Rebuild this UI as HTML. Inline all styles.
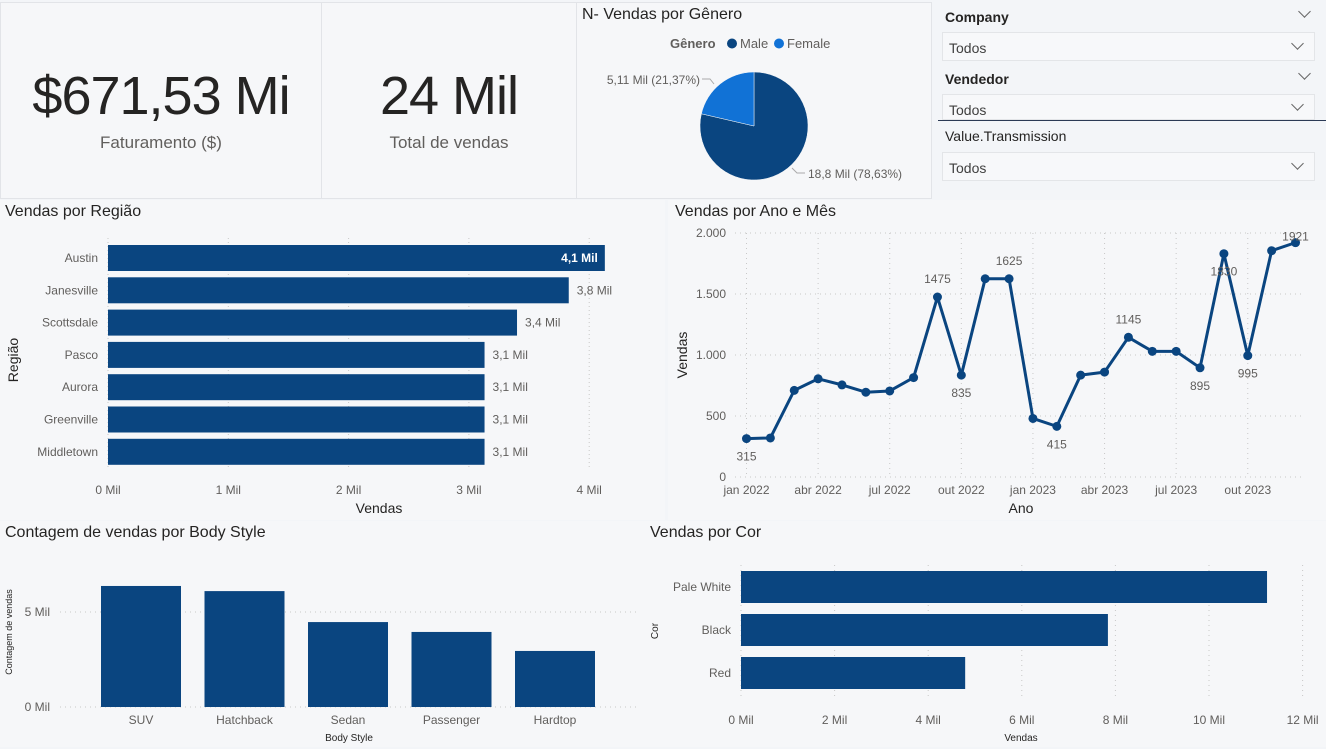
<!DOCTYPE html>
<html><head><meta charset="utf-8">
<style>
body{margin:0;width:1326px;height:749px;overflow:hidden;background:#f3f5f8;font-family:"Liberation Sans",sans-serif;position:relative}
.abs{position:absolute}
.card{position:absolute;background:#f6f7f9;border:1px solid #e2e4e8;box-sizing:border-box}
.kpi{font-size:54px;color:#252423;text-align:center;width:100%;letter-spacing:-1px}
.kcap{font-size:17px;color:#605e5c;text-align:center;width:100%}
.sl-t{font-size:14px;color:#252423;font-weight:bold}
.sl-b{position:absolute;background:#f7f8fa;border:1px solid #e3e5e8;font-size:14px;color:#404040;box-sizing:border-box;padding:7px 0 0 6px}
.chev{position:absolute;width:8px;height:8px;border-right:1.3px solid #666;border-bottom:1.3px solid #666;transform:rotate(45deg)}
svg text{font-family:"Liberation Sans",sans-serif}
</style></head><body>
<div class="card" style="left:0;top:2px;width:322px;height:197px">
 <div class="kpi abs" style="top:62px">$671,53 Mi</div>
 <div class="kcap abs" style="top:130px">Faturamento ($)</div>
</div>
<div class="card" style="left:321px;top:2px;width:256px;height:197px">
 <div class="kpi abs" style="top:62px">24 Mil</div>
 <div class="kcap abs" style="top:130px">Total de vendas</div>
</div>
<div class="card" style="left:576px;top:2px;width:356px;height:197px"></div>
<div class="abs" style="left:938px;top:0;width:388px;height:200px">
 <div class="sl-t abs" style="left:7px;top:9px">Company</div>
 <div class="chev" style="left:1361px"></div>
 <div class="chev" style="left:362px;top:7px"></div>
 <div class="sl-b" style="left:4px;top:32px;width:373px;height:29px">Todos<div class="chev" style="right:12px;top:6px"></div></div>
 <div class="sl-t abs" style="left:7px;top:71px">Vendedor</div>
 <div class="chev" style="left:362px;top:69px"></div>
 <div class="sl-b" style="left:4px;top:94px;width:373px;height:26px">Todos<div class="chev" style="right:12px;top:5px"></div></div>
 <div class="abs" style="left:0;top:120px;width:388px;height:1px;background:#2b3a55"></div>
 <div class="sl-t abs" style="left:7px;top:128px;font-weight:normal;color:#252423">Value.Transmission</div>
 <div class="sl-b" style="left:4px;top:152px;width:373px;height:29px">Todos<div class="chev" style="right:12px;top:6px"></div></div>
</div>
<svg id="s" class="abs" style="left:0;top:0" width="1326" height="749"></svg>
<script>
// Gender pie
const genders=["Male","Female"];
const genderVals=[18.8,5.11];
const genderLabels=["18,8 Mil (78,63%)","5,11 Mil (21,37%)"];
// Region
const regions=["Austin","Janesville","Scottsdale","Pasco","Aurora","Greenville","Middletown"];
const regionVals=[4.13,3.83,3.4,3.13,3.13,3.13,3.13];
const regionLabels=["4,1 Mil","3,8 Mil","3,4 Mil","3,1 Mil","3,1 Mil","3,1 Mil","3,1 Mil"];
const regionTicks=[0,1,2,3,4];
// Monthly
const months=["jan 2022","fev 2022","mar 2022","abr 2022","mai 2022","jun 2022","jul 2022","ago 2022","set 2022","out 2022","nov 2022","dez 2022","jan 2023","fev 2023","mar 2023","abr 2023","mai 2023","jun 2023","jul 2023","ago 2023","set 2023","out 2023","nov 2023","dez 2023"];
const monthVals=[315,320,710,805,755,695,705,815,1475,835,1625,1625,480,415,835,860,1145,1030,1030,895,1830,995,1855,1921];
const monthLabelIdx=[0,8,9,11,13,16,19,20,21,23];
const lineYTicks=[0,500,1000,1500,2000];
const lineXTickIdx=[0,3,6,9,12,15,18,21];
// Body style
const bodies=["SUV","Hatchback","Sedan","Passenger","Hardtop"];
const bodyVals=[6.37,6.1,4.47,3.95,2.95];
const bodyTicks=[0,5];
// Color
const colors=["Pale White","Black","Red"];
const colorVals=[11.24,7.84,4.79];
const colorTicks=[0,2,4,6,8,10,12];

const S=document.getElementById('s');const NS="http://www.w3.org/2000/svg";
function el(t,a,txt){const e=document.createElementNS(NS,t);for(const k in a)e.setAttribute(k,a[k]);if(txt!==undefined)e.textContent=txt;S.appendChild(e);return e;}
const DARK="#0a4580",GRID="#c8c8c8",TXT="#605e5c";
function fmt(n){return n.toLocaleString('pt-BR');}

// card backgrounds for lower area
let c;
c=el('rect',{x:0,y:200,width:665,height:320,fill:'#f6f7f9'});
c=el('rect',{x:668,y:200,width:658,height:320,fill:'#f6f7f9'});
c=el('rect',{x:0,y:521,width:645,height:226,fill:'#f6f7f9'});
c=el('rect',{x:645,y:521,width:681,height:226,fill:'#f6f7f9'});
S.insertBefore(S.lastChild,S.firstChild);S.insertBefore(S.lastChild,S.firstChild);S.insertBefore(S.lastChild,S.firstChild);S.insertBefore(S.lastChild,S.firstChild);

// ---- Pie
c=el('text',{x:582,y:19,'font-size':16,fill:'#252423'},'N- Vendas por Gênero');
c=el('text',{x:670,y:48,'font-size':13,'font-weight':'bold',fill:'#605e5c'},'Gênero');
const pieCols=[DARK,"#1172d6"];
[[732,"Male"],[779,"Female"]].forEach((p,i)=>{
 c=el('circle',{cx:p[0],cy:43.5,r:5,fill:pieCols[i]});
 c=el('text',{x:p[0]+8,y:48,'font-size':13,fill:'#605e5c'},genders[i]);
});
const pcx=754,pcy=126,pr=54;const tot=genderVals.reduce((a,b)=>a+b,0);
let ang=0;
genderVals.forEach((v,i)=>{
 const a0=ang,a1=ang+v/tot*2*Math.PI;ang=a1;
 const p0=[pcx+pr*Math.sin(a0),pcy-pr*Math.cos(a0)],p1=[pcx+pr*Math.sin(a1),pcy-pr*Math.cos(a1)];
 c=el('path',{d:`M${pcx},${pcy}L${p0[0]},${p0[1]}A${pr},${pr} 0 ${a1-a0>Math.PI?1:0} 1 ${p1[0]},${p1[1]}Z`,fill:pieCols[i],stroke:'#f6f7f9','stroke-width':0.5});
 
});
el('path',{d:'M792,168 L797,173 L805,173',stroke:'#aaa',fill:'none'});
c=el('text',{x:808,y:178,'font-size':12,fill:TXT},genderLabels[0]);
el('path',{d:'M702,79 L710,79 L714,84',stroke:'#aaa',fill:'none'});
c=el('text',{x:700,y:84,'font-size':12,fill:TXT,'text-anchor':'end'},genderLabels[1]);

// ---- Region bars
c=el('text',{x:5,y:216,'font-size':16,fill:'#252423'},'Vendas por Região');
const rx=v=>108+v*120.3;
regionTicks.forEach(t=>{el('line',{x1:rx(t),x2:rx(t),y1:238,y2:468,stroke:GRID,'stroke-dasharray':'1,3'});
 c=el('text',{x:rx(t),y:494,'font-size':12,fill:TXT,'text-anchor':'middle'},t+' Mil');});
regions.forEach((r,i)=>{const cy=258+i*32.3;
 c=el('rect',{x:108,y:cy-13,width:rx(regionVals[i])-108,height:26,fill:DARK});
 c=el('text',{x:98,y:cy+4,'font-size':12,fill:TXT,'text-anchor':'end'},r);
 const inside=i==0;
 c=el('text',{x:inside?rx(regionVals[i])-7:rx(regionVals[i])+8,y:cy+4,'font-size':12,fill:inside?'#fff':TXT,'text-anchor':inside?'end':'start','font-weight':inside?'bold':'normal'},regionLabels[i]);
});
c=el('text',{x:379,y:513,'font-size':14,fill:'#252423','text-anchor':'middle'},'Vendas');
c=el('text',{x:0,y:0,'font-size':14,fill:'#252423','text-anchor':'middle',transform:'translate(18,360) rotate(-90)'},'Região');

// ---- Line chart
c=el('text',{x:675,y:216,'font-size':16,fill:'#252423'},'Vendas por Ano e Mês');
const lx=i=>746.5+i*23.87, ly=v=>477-v/2000*244;
lineYTicks.forEach(t=>{el('line',{x1:735,x2:1302,y1:ly(t),y2:ly(t),stroke:GRID,'stroke-dasharray':'1,4'});
 c=el('text',{x:726,y:ly(t)+4,'font-size':12,fill:TXT,'text-anchor':'end'},fmt(t).replace(/\s/g,''));});
lineXTickIdx.forEach(i=>{el('line',{x1:lx(i),x2:lx(i),y1:233,y2:477,stroke:GRID,'stroke-dasharray':'1,4'});
 c=el('text',{x:lx(i),y:494,'font-size':12,fill:TXT,'text-anchor':'middle'},months[i]);});
c=el('polyline',{points:monthVals.map((v,i)=>lx(i)+','+ly(v)).join(' '),fill:'none',stroke:DARK,'stroke-width':3,'stroke-linejoin':'round'});
monthVals.forEach((v,i)=>{c=el('circle',{cx:lx(i),cy:ly(v),r:4.5,fill:DARK});});
monthLabelIdx.forEach(i=>{const v=monthVals[i];const prev=monthVals[i-1]||v,next=monthVals[i+1]||v;
 const below=v<prev&&v<next||i==0||i==20; const y=below?ly(v)+22:ly(v)-14;
 c=el('text',{x:lx(i),y:i==23?ly(v)-2:y,'font-size':12,fill:TXT,'text-anchor':'middle'},String(v));});
c=el('text',{x:1021,y:513,'font-size':14,fill:'#252423','text-anchor':'middle'},'Ano');
c=el('text',{x:0,y:0,'font-size':14,fill:'#252423','text-anchor':'middle',transform:'translate(687,355) rotate(-90)'},'Vendas');

// ---- Body style
c=el('text',{x:5,y:537,'font-size':16,fill:'#252423'},'Contagem de vendas por Body Style');
const by=v=>707-v*19;
bodyTicks.forEach(t=>{el('line',{x1:60,x2:640,y1:by(t),y2:by(t),stroke:GRID,'stroke-dasharray':'1,4'});
 c=el('text',{x:50,y:by(t)+4,'font-size':12,fill:TXT,'text-anchor':'end'},t+' Mil');});
bodies.forEach((b,i)=>{const cx=141+i*103.5;
 c=el('rect',{x:cx-40,y:by(bodyVals[i]),width:80,height:by(0)-by(bodyVals[i]),fill:DARK});
 c=el('text',{x:cx,y:724,'font-size':12,fill:TXT,'text-anchor':'middle'},b);});
c=el('text',{x:349,y:741,'font-size':10,fill:'#252423','text-anchor':'middle'},'Body Style');
c=el('text',{x:0,y:0,'font-size':9,fill:'#252423','text-anchor':'middle',transform:'translate(12,632) rotate(-90)'},'Contagem de vendas');

// ---- Color
c=el('text',{x:650,y:537,'font-size':16,fill:'#252423'},'Vendas por Cor');
const cx_=v=>741+v*46.8;
colorTicks.forEach(t=>{el('line',{x1:cx_(t),x2:cx_(t),y1:565,y2:700,stroke:GRID,'stroke-dasharray':'1,4'});
 c=el('text',{x:cx_(t),y:724,'font-size':12,fill:TXT,'text-anchor':'middle'},t+' Mil');});
colors.forEach((k,i)=>{const cy=587+i*43;
 c=el('rect',{x:741,y:cy-16,width:cx_(colorVals[i])-741,height:32,fill:DARK});
 c=el('text',{x:731,y:cy+4,'font-size':12,fill:TXT,'text-anchor':'end'},k);});
c=el('text',{x:1021,y:741,'font-size':10,fill:'#252423','text-anchor':'middle'},'Vendas');
c=el('text',{x:0,y:0,'font-size':10,fill:'#252423','text-anchor':'middle',transform:'translate(658,631) rotate(-90)'},'Cor');
</script>
</body></html>
